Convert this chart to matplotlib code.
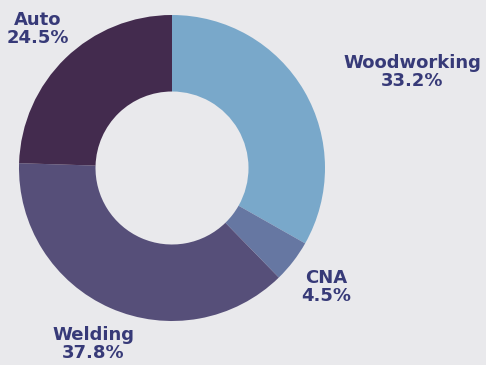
import matplotlib
matplotlib.use('Agg')
import matplotlib.pyplot as plt

# 数据
labels = ['Woodworking', 'CNA', 'Welding', 'Auto']
values = [33.2, 4.5, 37.8, 24.5]
colors = ['#79a8ca', '#6677a2', '#564f79', '#432b4e']

bg = '#e9e9ec'
txt = '#373a78'

W, H = 486, 365
fig = plt.figure(figsize=(W / 100, H / 100), dpi=100, facecolor=bg)

# 圆心与半径（像素）
cx, cy, r = 172, 168, 153
ax = fig.add_axes([(cx - r) / W, (H - cy - r) / H, 2 * r / W, 2 * r / H])
ax.set_facecolor(bg)
ax.pie(values, colors=colors, startangle=90, counterclock=False,
       wedgeprops=dict(width=0.5, linewidth=0))
ax.set_xlim(-1, 1)
ax.set_ylim(-1, 1)
ax.axis('off')

# 标签位置（像素）
pos = {'Auto': (38, 29), 'Woodworking': (412, 72), 'CNA': (326, 287), 'Welding': (93, 344)}
for lab, v in zip(labels, values):
    x, y = pos[lab]
    fig.text(x / W, 1 - y / H, f'{lab}\n{v}%', ha='center', va='center',
             fontsize=13, fontweight='bold', color=txt, linespacing=1.0,
             family='DejaVu Sans')

fig.savefig('out.png', dpi=100, facecolor=bg)
